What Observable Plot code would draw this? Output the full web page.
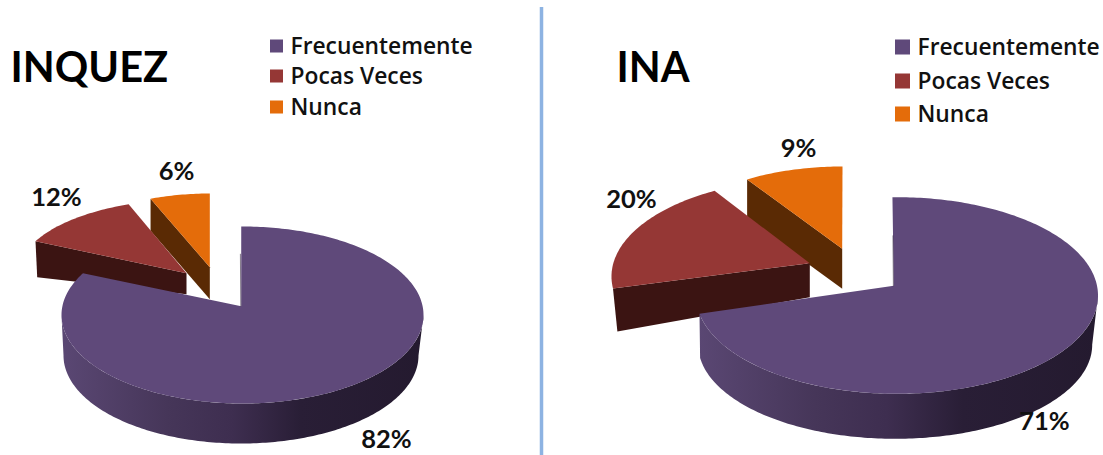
<!DOCTYPE html>
<html>
<head>
<meta charset="utf-8">
<style>html,body{margin:0;padding:0;background:#fff}svg{display:block}</style>
<script src="https://cdn.jsdelivr.net/npm/d3@7"></script>
<script src="https://cdn.jsdelivr.net/npm/@observablehq/plot@0.6"></script>
</head>
<body>
<div id="chart"></div>
<script>
const categories = ["Frecuentemente", "Pocas Veces", "Nunca"];
const inquezValues = [82, 12, 6];
const inaValues = [71, 20, 9];
const topColors = ["#5f497a", "#953735", "#e46c0a"];
const wallColors = ["url(#wall)", "#3b1412", "#5a2a04"];

const FONT = "Lato";
const LEGEND_FONT = "Open Sans";
const W = 1103, H = 455;

// Layout of each pie in the picture (projection of the tilted discs).
const layouts = [
  {
    id: "inquez", values: inquezValues, title: "INQUEZ", titleX: 10, titleY: 68,
    legend: {x: 270, size: 13, textX: 290, ys: [46, 76, 107], fs: 22.8},
    labels: [[386, 439.5], [56, 197], [176, 171]],
    wallSpan: [62, 423],
    slices: [
      {e: {cx: 242, cy: 314.5, rx: 181, ry: 88.5}, da0: -0.4, da1: 3, apex: [240.7, 305.7],
       bottom: {cx: 240.5, cy: 355, rx: 177.5, ry: 88}, innerLine: 52},
      {e: {cx: 192, cy: 272, rx: 173.5, ry: 73.4}, da0: 0, da1: 0, apex: [186, 272.7], dA: 21, outer: [1.7, 36]},
      {e: {cx: 209.3, cy: 268, rx: 161, ry: 75}, da0: 0, da1: 0, apex: [209.3, 266.7], dA: 32, outer: [0, 32]}
    ]
  },
  {
    id: "ina", values: inaValues, title: "INA", titleX: 616, titleY: 68,
    legend: {x: 895, size: 15, textX: 917, ys: [47, 81, 114], fs: 22.8},
    labels: [[1044, 421], [631, 199], [798, 148]],
    wallSpan: [698, 1098],
    slices: [
      {e: {cx: 896.5, cy: 295, rx: 201, ry: 98.3}, da0: -1.3, da1: 3.7, apex: [893.3, 285.3],
       bottom: {cx: 894.7, cy: 344.3, rx: 197, ry: 94}, bottomDa1: 6.4, innerLine: 50},
      {e: {cx: 811, cy: 276, rx: 200, ry: 98}, da0: 7.4, da1: 3.4, apex: [809.3, 262.7], dA: 34, outer: [4.4, 43]},
      {e: {cx: 842, cy: 249, rx: 178, ry: 83}, da0: 0, da1: 0, apex: [841.7, 248.3], dA: 40, outer: [0, 40]}
    ]
  }
];

const rad = d => d * Math.PI / 180;
const onEllipse = (e, a) => ({x: e.cx + e.rx * Math.sin(rad(a)), y: e.cy - e.ry * Math.cos(rad(a))});
const arc = (e, a0, a1) => {
  const n = Math.max(2, Math.ceil(Math.abs(a1 - a0)));
  return d3.range(n + 1).map(i => onEllipse(e, a0 + (a1 - a0) * i / n));
};
const poly = (pts, fill) => Plot.line(pts, {x: "x", y: "y", fill, stroke: "none", curve: "linear"});

const marks = [];

// gradient for the curved rim of the large slice
marks.push(() => {
  const defs = d3.create("svg:defs");
  layouts.forEach(L => {
    const g = defs.append("linearGradient").attr("id", "wall-" + L.id)
      .attr("gradientUnits", "userSpaceOnUse")
      .attr("x1", L.wallSpan[0]).attr("x2", L.wallSpan[1]).attr("y1", 0).attr("y2", 0);
    [[0, "#5a4773"], [0.29, "#463659"], [0.47, "#3e2e50"], [0.66, "#291e36"], [1, "#241a2f"]]
      .forEach(([o, c]) => g.append("stop").attr("offset", o).attr("stop-color", c));
  });
  return defs.node();
});

layouts.forEach(L => {
  const total = d3.sum(L.values);
  let acc = 0;
  const spans = L.values.map(v => { const a0 = acc / total * 360; acc += v; return [a0, acc / total * 360]; });

  // back to front: last slice, middle slice, main slice
  [2, 1, 0].forEach(i => {
    const s = L.slices[i];
    const [a0, a1] = spans[i];
    const A0 = a0 + s.da0, A1 = a1 + s.da1;
    const apex = {x: s.apex[0], y: s.apex[1]};
    const rim = arc(s.e, A0, A1);
    if (i === 0) {
      // curved outer wall
      const topEnd = Math.min(A1, 270);
      const botEnd = s.bottomDa1 != null ? a1 + s.bottomDa1 : Math.min(A1, 270);
      const wall = [...arc(s.e, 90, topEnd), ...arc(s.bottom, botEnd, 90)];
      marks.push(poly(wall, `url(#wall-${L.id})`));
      marks.push(poly([...rim, apex], topColors[0]));
      marks.push(Plot.line([{x: apex.x - 0.4, y: apex.y}, {x: apex.x - 0.8, y: apex.y - s.innerLine}],
        {x: "x", y: "y", stroke: "#33263f", strokeWidth: 1, strokeOpacity: 0.6}));
    } else {
      const start = rim[0];
      const wall = [start, apex, {x: apex.x, y: apex.y + s.dA}, {x: start.x + s.outer[0], y: start.y + s.outer[1]}];
      marks.push(poly(wall, wallColors[i]));
      marks.push(poly([...rim, apex], topColors[i]));
    }
  });

  // percentage labels
  const labels = L.values.map((v, i) => ({t: v + "%", x: L.labels[i][0], y: L.labels[i][1]}));
  marks.push(Plot.text(labels, {x: "x", y: "y", text: "t", fontFamily: FONT, fontSize: 25.5, fontWeight: 700,
    fill: "#111", textAnchor: "middle", lineAnchor: "middle"}));

  // title
  marks.push(Plot.text([L.title], {x: () => L.titleX, y: () => L.titleY, text: d => d, fontFamily: FONT, fontSize: 41.5,
    fontWeight: 700, fill: "#000", textAnchor: "start", lineAnchor: "middle"}));

  // legend
  const leg = categories.map((c, i) => ({c, color: topColors[i], y: L.legend.ys[i]}));
  marks.push(Plot.rect(leg, {x1: () => L.legend.x, x2: () => L.legend.x + L.legend.size,
    y1: d => d.y - L.legend.size / 2, y2: d => d.y + L.legend.size / 2, fill: "color"}));
  marks.push(Plot.text(leg, {x: () => L.legend.textX, y: "y", text: "c", fontFamily: LEGEND_FONT, fontSize: L.legend.fs,
    fontWeight: 600, fill: "#111", textAnchor: "start", lineAnchor: "middle"}));
});

// vertical separator
marks.push(Plot.ruleX([541], {y1: 7, y2: 455, stroke: "#8db3e2", strokeWidth: 3.5}));

const chart = Plot.plot({
  width: W, height: H,
  margin: 0,
  x: {domain: [0, W], range: [0, W], axis: null},
  y: {domain: [0, H], range: [0, H], axis: null},
  style: {background: "#fff"},
  marks
});
document.getElementById("chart").appendChild(chart);
</script>
</body>
</html>
